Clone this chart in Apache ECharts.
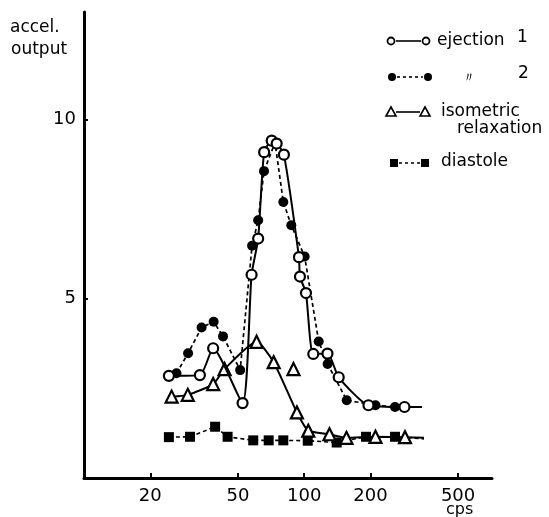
<!DOCTYPE html>
<html>
<head>
<meta charset="utf-8">
<script src="https://cdn.jsdelivr.net/npm/echarts@6/dist/echarts.min.js"></script>
<style>
html,body{margin:0;padding:0;background:#fff;}
#chart{width:549px;height:517px;}
</style>
</head>
<body>
<div id="chart"></div>
<script>
// ---- data (cps, accel. output) ----
const ej1Cps = [24.3, 33.6, 38.6, 52.5, 57.7, 61.8, 65.8, 71.2, 75.0, 80.9, 94.7, 95.7, 101.9, 110.0, 127.6, 143.5, 195.9, 285.5];
const ej1Out = [2.85, 2.87, 3.62, 2.09, 5.67, 6.68, 9.09, 9.41, 9.33, 9.02, 6.16, 5.62, 5.16, 3.46, 3.47, 2.81, 2.03, 1.98];
const ej1End = [343, 1.98];

const ej2Cps = [26.3, 29.7, 34.2, 38.8, 42.8, 51.2, 58.0, 61.8, 65.7, 73.7, 80.4, 87.4, 100.5, 116.4, 127.8, 156.0, 210.8, 258.5];
const ej2Out = [2.92, 3.48, 4.20, 4.36, 3.95, 3.01, 6.48, 7.19, 8.56, 9.36, 7.70, 7.05, 6.18, 3.81, 3.18, 2.17, 2.03, 1.98];

const isoCps = [25.0, 29.6, 38.6, 43.5, 60.8, 72.7, 92.7, 104.4, 130.3, 155.6, 210.8, 287.0];
const isoOut = [2.27, 2.32, 2.62, 3.04, 3.80, 3.23, 1.83, 1.32, 1.22, 1.12, 1.15, 1.14];
const isoEnd = [350, 1.12];
const isoLoneCps = [89.4];
const isoLoneOut = [3.04];

const diaCps = [24.3, 30.3, 39.4, 44.9, 58.7, 69.0, 80.4, 103.8, 140.5, 190.9, 258.5];
const diaOut = [1.14, 1.15, 1.43, 1.15, 1.05, 1.05, 1.05, 1.04, 0.99, 1.15, 1.15];
const diaEnd = [350, 1.09];

const xTicks = [20, 50, 100, 200, 500];
const yTicks = [5, 10];

const FONT = 'DejaVu Sans';
function pairs(xs, ys, end) {
  const d = xs.map((x, i) => [x, ys[i]]);
  if (end) d.push({ value: end, symbol: 'none' });
  return d;
}

const chart = echarts.init(document.getElementById('chart'), null, { renderer: 'canvas' });

const openStyle = { color: '#fff', borderColor: '#000', borderWidth: 2.2, opacity: 1 };
const fillStyle = { color: '#000', borderColor: '#000', borderWidth: 0, opacity: 1 };

// legend drawn as graphics
const g = [];
function lrow(y, x1, x2, kind, dashed) {
  g.push({ type: 'line', shape: { x1: x1 + 5, y1: y, x2: x2 - 5, y2: y },
    style: { stroke: '#000', lineWidth: 1.6, lineDash: dashed ? [3, 3] : null }, silent: true });
  [x1, x2].forEach(x => {
    if (kind === 'open') g.push({ type: 'circle', shape: { cx: x, cy: y, r: 3.5 }, style: { fill: '#fff', stroke: '#000', lineWidth: 1.8 } });
    if (kind === 'fill') g.push({ type: 'circle', shape: { cx: x, cy: y, r: 4 }, style: { fill: '#000' } });
    if (kind === 'tri') g.push({ type: 'polygon', shape: { points: [[x, y - 5], [x - 5, y + 4], [x + 5, y + 4]] }, style: { fill: '#fff', stroke: '#000', lineWidth: 1.6 } });
    if (kind === 'sq') g.push({ type: 'rect', shape: { x: x - 4, y: y - 4, width: 8, height: 8 }, style: { fill: '#000' } });
  });
}
function txt(x, y, s, size) {
  g.push({ type: 'text', x: x, y: y, style: { text: s, fill: '#000', font: (size || 17) + 'px "' + FONT + '"', textAlign: 'left', textVerticalAlign: 'middle' }, silent: true });
}
lrow(41, 391, 426, 'open', false);
txt(437, 41, 'ejection'); txt(517, 38, '1');
lrow(77, 392, 428, 'fill', true);
txt(462, 78, '〃', 14); txt(518, 74, '2');
lrow(112, 391, 425, 'tri', false);
txt(441, 112, 'isometric'); txt(457, 129, 'relaxation');
lrow(163, 394, 425, 'sq', true);
txt(441, 162, 'diastole');
txt(10, 28, 'accel.'); txt(11, 50, 'output');
txt(446, 510, 'cps', 16);

const option = {
  animation: false,
  backgroundColor: '#fff',
  grid: { left: 84, right: 57, top: 12, bottom: 39, containLabel: false },
  xAxis: {
    type: 'log', logBase: 10, min: 10, max: 713,
    axisLine: { show: true, lineStyle: { color: '#000', width: 3 } },
    axisTick: { show: true, inside: true, length: 5, lineStyle: { color: '#000', width: 2 }, customValues: xTicks },
    axisLabel: { color: '#000', fontFamily: FONT, fontSize: 18, margin: 9, customValues: xTicks, formatter: v => String(Math.round(v)) },
    splitLine: { show: false }, minorTick: { show: false }
  },
  yAxis: {
    type: 'value', min: 0, max: 13,
    axisLine: { show: true, lineStyle: { color: '#000', width: 3 } },
    axisTick: { show: true, inside: true, length: 4, lineStyle: { color: '#000', width: 2 }, customValues: yTicks },
    axisLabel: { color: '#000', fontFamily: FONT, fontSize: 18, margin: 8, customValues: yTicks },
    splitLine: { show: false }
  },
  graphic: g,
  series: [
    { name: 'diastole', type: 'line', data: pairs(diaCps, diaOut, diaEnd), symbol: 'rect', symbolSize: 10,
      itemStyle: fillStyle, lineStyle: { color: '#000', width: 1.6, type: [4, 3] }, z: 2 },
    { name: 'isometric relaxation', type: 'line', data: pairs(isoCps, isoOut, isoEnd), symbol: 'triangle', symbolSize: 12,
      itemStyle: openStyle, lineStyle: { color: '#000', width: 2 }, smooth: 0.2, z: 3 },
    { name: 'isometric relaxation (off-curve)', type: 'scatter', data: pairs(isoLoneCps, isoLoneOut), symbol: 'triangle', symbolSize: 12,
      itemStyle: openStyle, z: 3 },
    { name: 'ejection 2', type: 'line', data: pairs(ej2Cps, ej2Out), symbol: 'circle', symbolSize: 10,
      itemStyle: fillStyle, lineStyle: { color: '#000', width: 1.7, type: [4, 3] }, z: 4 },
    { name: 'ejection 1', type: 'line', data: pairs(ej1Cps, ej1Out, ej1End), symbol: 'circle', symbolSize: 10,
      itemStyle: openStyle, lineStyle: { color: '#000', width: 2 }, smooth: 0.2, z: 5 }
  ]
};
chart.setOption(option);
</script>
</body>
</html>
